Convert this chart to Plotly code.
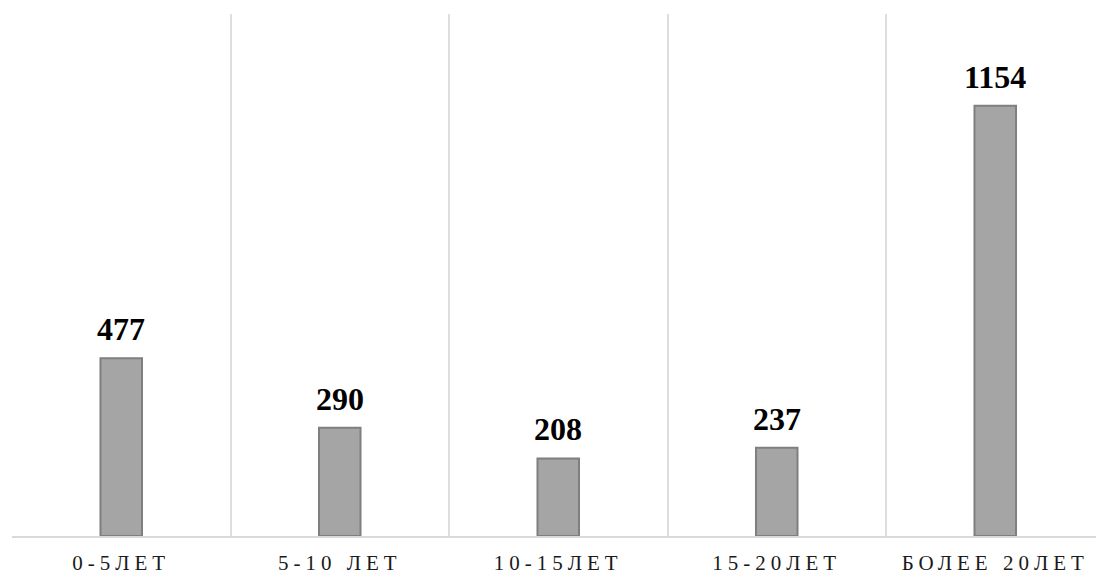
import plotly.graph_objects as go

# Experience groups and counts
categories = ["0-5ЛЕТ", "5-10 ЛЕТ", "10-15ЛЕТ", "15-20ЛЕТ", "БОЛЕЕ 20ЛЕТ"]
counts = [477, 290, 208, 237, 1154]

positions = list(range(len(categories)))

fig = go.Figure()
fig.add_trace(go.Bar(
    x=positions,
    y=counts,
    width=0.19,
    marker=dict(color="#a5a5a5", line=dict(color="#7f7f7f", width=2)),
    hoverinfo="skip",
))

# Value labels above each bar
for xi, v in zip(positions, counts):
    fig.add_annotation(
        x=xi, y=v, text="<b>%d</b>" % v, showarrow=False,
        yanchor="bottom", yshift=9,
        font=dict(family="Liberation Serif", size=32, color="#000000", weight="bold"),
    )

fig.update_layout(
    width=1096, height=576,
    margin=dict(l=12, r=0, t=14, b=40),
    paper_bgcolor="white", plot_bgcolor="white",
    showlegend=False,
    font=dict(family="Liberation Serif"),
)

fig.update_xaxes(
    range=[-0.5, -0.5 + 1084 / 218.5],
    tickmode="array", tickvals=positions, ticktext=categories,
    showgrid=False, zeroline=False,
    showline=True, linecolor="#d9d9d9", linewidth=2,
    ticks="", ticklabelstandoff=7,
    tickfont=dict(family="Liberation Serif", size=21, color="#1a1a1a"),
    minor=dict(tick0=-0.5, dtick=1, showgrid=True, gridcolor="#dedede", gridwidth=2),
)
fig.update_yaxes(
    range=[0, 1400], showgrid=False, zeroline=False,
    showticklabels=False, showline=False,
)

# Widen the letter spacing of the category labels
post = """
document.querySelectorAll('.xtick text').forEach(function(t){
  t.style.letterSpacing = '5px';
});
"""

fig.write_html("out.html", post_script=post)
